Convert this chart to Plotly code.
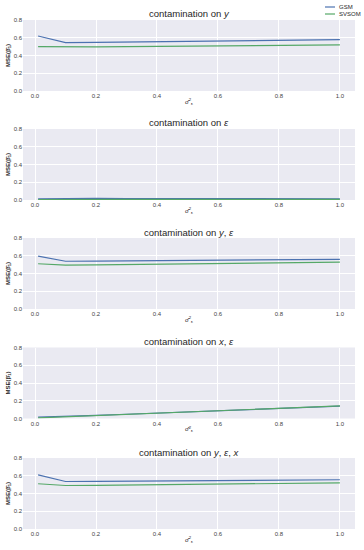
import plotly.graph_objects as go

# ---- data ----
x_vals = [0.01, 0.1, 0.2, 0.3, 0.4, 0.5, 0.6, 0.7, 0.8, 0.9, 1.0]

titles = [
    "contamination on <i>y</i>",
    "contamination on <i>ε</i>",
    "contamination on <i>y</i>, <i>ε</i>",
    "contamination on <i>x</i>, <i>ε</i>",
    "contamination on <i>y</i>, <i>ε</i>, <i>x</i>",
]

gsm_y = [0.620, 0.545, 0.548, 0.551, 0.555, 0.558, 0.562, 0.566, 0.570, 0.574, 0.578]
svsom_y = [0.500, 0.495, 0.497, 0.499, 0.502, 0.505, 0.508, 0.511, 0.514, 0.517, 0.520]

gsm_eps = [0.012, 0.018, 0.018, 0.017, 0.017, 0.016, 0.016, 0.015, 0.015, 0.014, 0.014]
svsom_eps = [0.005, 0.008, 0.008, 0.008, 0.008, 0.007, 0.007, 0.007, 0.007, 0.007, 0.007]

gsm_yeps = [0.595, 0.538, 0.540, 0.543, 0.545, 0.547, 0.550, 0.552, 0.554, 0.557, 0.560]
svsom_yeps = [0.510, 0.495, 0.497, 0.500, 0.504, 0.508, 0.512, 0.516, 0.520, 0.524, 0.528]

gsm_xeps = [0.015, 0.022, 0.035, 0.048, 0.062, 0.075, 0.088, 0.101, 0.114, 0.127, 0.140]
svsom_xeps = [0.006, 0.018, 0.032, 0.046, 0.060, 0.074, 0.088, 0.102, 0.115, 0.128, 0.142]

gsm_yepsx = [0.610, 0.535, 0.537, 0.539, 0.541, 0.543, 0.545, 0.547, 0.550, 0.552, 0.555]
svsom_yepsx = [0.510, 0.490, 0.492, 0.495, 0.498, 0.501, 0.504, 0.508, 0.512, 0.516, 0.520]

gsm_series = [gsm_y, gsm_eps, gsm_yeps, gsm_xeps, gsm_yepsx]
svsom_series = [svsom_y, svsom_eps, svsom_yeps, svsom_xeps, svsom_yepsx]

y_ticks = [0.0, 0.2, 0.4, 0.6, 0.8]
y_tick_labels = ["0.0", "0.2", "0.4", "0.6", "0.8"]
x_ticks = [0.0, 0.2, 0.4, 0.6, 0.8, 1.0]
x_tick_labels = ["0.0", "0.2", "0.4", "0.6", "0.8", "1.0"]
series_names = ["GSM", "SVSOM"]
x_label = "σ̂<sup>2</sup><sub>ε</sub>"
y_label = "<b>MSE(β̂<sub>1</sub>)</b>"

# ---- style ----
W, H = 364, 550
ML, MR, MT, MB = 23, 9, 20, 21
PW, PH = W - ML - MR, H - MT - MB
BLUE = "#4C72B0"
GREEN = "#55A868"
BG = "#EAEAF2"
TXT = "#262626"
FONT = "Liberation Sans, Arial, sans-serif"

panels_px = [(20, 91), (129, 200), (238, 309), (347.5, 418.5), (458, 529)]


def py(p):
    return (H - MB - p) / PH


def px(p):
    return (p - ML) / PW


fig = go.Figure()
layout = dict(
    width=W, height=H,
    margin=dict(l=ML, r=MR, t=MT, b=MB, pad=0),
    paper_bgcolor="white",
    plot_bgcolor=BG,
    showlegend=False,
    hovermode=False,
    font=dict(family=FONT, color=TXT, size=6),
)
annotations = []
shapes = []

for i in range(5):
    n = "" if i == 0 else str(i + 1)
    top, bot = panels_px[i]
    layout["xaxis" + n] = dict(
        domain=[0, 1], anchor="y" + n, range=[-0.0395, 1.0495],
        tickvals=x_ticks, ticktext=x_tick_labels,
        showgrid=True, gridcolor="white", gridwidth=1,
        zeroline=False, showline=False, ticks="",
        tickfont=dict(size=6, color="#444", family=FONT),
        title=dict(text=x_label, standoff=1, font=dict(size=6, color=TXT, family=FONT)),
        automargin=False, fixedrange=True,
    )
    layout["yaxis" + n] = dict(
        domain=[py(bot), py(top)], anchor="x" + n, range=[0, 0.8],
        tickvals=y_ticks, ticktext=y_tick_labels,
        showgrid=True, gridcolor="white", gridwidth=1,
        zeroline=False, showline=False, ticks="",
        tickfont=dict(size=6, color="#444", family=FONT),
        title=dict(text=y_label, standoff=2, font=dict(size=6, color=TXT, family=FONT)),
        automargin=False, fixedrange=True,
    )
    fig.add_trace(go.Scatter(x=x_vals, y=gsm_series[i], mode="lines", name=series_names[0],
                             line=dict(color=BLUE, width=1.2), xaxis="x" + n, yaxis="y" + n))
    fig.add_trace(go.Scatter(x=x_vals, y=svsom_series[i], mode="lines", name=series_names[1],
                             line=dict(color=GREEN, width=1.2), xaxis="x" + n, yaxis="y" + n))
    # title
    annotations.append(dict(text=titles[i], xref="paper", yref="paper", x=px(189), y=py(top - 6),
                            xanchor="center", yanchor="middle", showarrow=False,
                            font=dict(size=9.5, color=TXT, family=FONT)))

# legend (figure-level, top right)
for j, (name, col, yy) in enumerate([(series_names[0], BLUE, 7), (series_names[1], GREEN, 14)]):
    shapes.append(dict(type="line", xref="paper", yref="paper", x0=px(325), x1=px(335),
                       y0=py(yy), y1=py(yy), line=dict(color=col, width=1.2)))
    annotations.append(dict(text=name, xref="paper", yref="paper", x=px(337), y=py(yy),
                            xanchor="left", yanchor="middle", showarrow=False,
                            font=dict(size=6, color=TXT, family=FONT)))

layout["annotations"] = annotations
layout["shapes"] = shapes
fig.update_layout(**layout)
fig.write_html("out.html",
               config={"displayModeBar": False, "staticPlot": True},
               post_script="document.body.style.margin='0';document.body.style.overflow='hidden';")
